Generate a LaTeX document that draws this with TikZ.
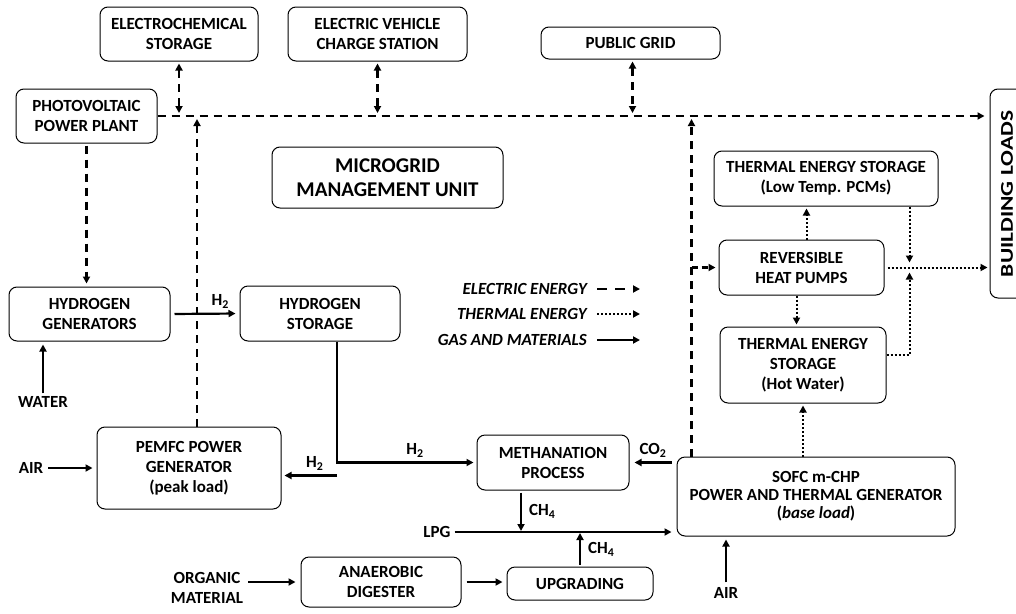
\documentclass[tikz,border=0pt]{standalone}
\usepackage{fontspec}
\setmainfont{Carlito}
\usetikzlibrary{arrows.meta,calc}
\tikzset{
  box/.style={draw, line width=1pt, rounded corners=8pt, align=center, inner sep=0pt,
    font=\fontsize{17}{20}\selectfont\bfseries},
  lbl/.style={font=\fontsize{17}{20}\selectfont\bfseries, inner sep=1pt, align=center},
  leg/.style={font=\fontsize{17}{20}\selectfont\bfseries\itshape, inner sep=0pt, anchor=east},
  tip/.style={-{Triangle[length=7pt,width=7pt]}},
  dtip/.style={{Triangle[length=7pt,width=7pt]}-{Triangle[length=7pt,width=7pt]}},
  elec/.style={line width=2.2pt, dash pattern=on 8pt off 6pt},
  therm/.style={line width=2pt, dash pattern=on 2pt off 2pt},
  gas/.style={line width=2.2pt},
}
\begin{document}
\begin{tikzpicture}[x=1pt,y=-1pt]
\useasboundingbox (0,0) rectangle (1016,613);
% boxes
\node[box, minimum width=158, minimum height=54] (ecs) at (179,34) {ELECTROCHEMICAL\\STORAGE};
\node[box, minimum width=179, minimum height=54] (ev) at (377.5,34) {ELECTRIC VEHICLE\\CHARGE STATION};
\node[box, minimum width=179, minimum height=32] (pg) at (630.5,43) {PUBLIC GRID};
\node[box, minimum width=141, minimum height=54] (pv) at (86.5,116) {PHOTOVOLTAIC\\POWER PLANT};
\node[box, minimum width=231, minimum height=61, font=\fontsize{21}{24}\selectfont\bfseries] (mmu) at (387.5,177.5) {MICROGRID\\MANAGEMENT UNIT};
\node[box, minimum width=161, minimum height=54] (hg) at (89.5,314) {HYDROGEN\\GENERATORS};
\node[box, minimum width=160, minimum height=55] (hs) at (320,313.5) {HYDROGEN\\STORAGE};
\node[box, minimum width=184, minimum height=82] (pem) at (189,468) {PEMFC POWER\\GENERATOR\\(peak load)};
\node[box, minimum width=152, minimum height=55] (meth) at (553,462.5) {METHANATION\\PROCESS};
\node[box, minimum width=278, minimum height=79, font=\fontsize{17}{18}\selectfont\bfseries] (sofc) at (816,496.5) {SOFC m-CHP\\POWER AND THERMAL GENERATOR\\(\textit{base load})};
\node[box, minimum width=160, minimum height=50] (ad) at (381,582) {ANAEROBIC\\DIGESTER};
\node[box, minimum width=146, minimum height=33] (up) at (580,583.5) {UPGRADING};
\node[box, minimum width=224, minimum height=55] (tesl) at (826,178.5) {THERMAL ENERGY STORAGE\\(Low Temp. PCMs)};
\node[box, minimum width=165, minimum height=55] (rhp) at (801.5,267.5) {REVERSIBLE\\HEAT PUMPS};
\node[box, minimum width=166, minimum height=76] (tesh) at (803,365) {THERMAL ENERGY\\STORAGE\\(Hot Water)};
\node[box, minimum width=60, minimum height=209] (bl) at (1020,193.5) {};
\node[lbl, rotate=90, font=\fontsize{18}{20}\selectfont\bfseries] (blt) at (1007,194) {\scalebox{1.3}[1]{BUILDING LOADS}};
% free labels
\node[lbl] (water) at (43,402) {WATER};
\node[lbl] (air1) at (31,468) {AIR};
\node[lbl] (lpg) at (437,532) {LPG};
\node[lbl] (org) at (207,588) {ORGANIC\\MATERIAL};
\node[lbl] (air2) at (726,593) {AIR};
% legend
\node[leg] (le) at (587,289) {ELECTRIC ENERGY};
\node[leg] (lt) at (587,314) {THERMAL ENERGY};
\node[leg] (lg) at (587,340) {GAS AND MATERIALS};
\coordinate (lee) at (640,289);
\coordinate (lte) at (640,314);
\coordinate (lge) at (640,340);
\draw[elec, tip, dash pattern=on 10pt off 8pt] ($(le.east)+(10,0)$) -- (lee);
\draw[therm, tip] ($(lt.east)+(10,0)$) -- (lte);
\draw[gas, tip] ($(lg.east)+(10,0)$) -- (lge);
% electric bus
\draw[elec, tip, shorten >=5pt] (pv.east) -- (bl.west |- pv.east);
\draw[elec, dtip, shorten <=2pt, shorten >=3pt] (ecs.south) -- (ecs.south |- pv.east);
\draw[elec, dtip, shorten <=2pt, shorten >=3pt] (ev.south) -- (ev.south |- pv.east);
\coordinate (pgd) at ($(pg.south)+(2,0)$);
\draw[elec, dtip, shorten <=2pt, shorten >=3pt] (pgd) -- (pgd |- pv.east);
\coordinate (pemup) at ($(pem.north)+(8,0)$);
\draw[elec, tip, shorten >=3pt] (pemup) -- (pemup |- pv.east);
\coordinate (sofcup) at ($(sofc.north west)+(15,0)$);
\draw[elec, tip, shorten >=3pt] (sofcup) -- (sofcup |- pv.east);
\draw[elec, tip, shorten >=3pt, dash pattern=on 6pt off 4pt] (sofcup |- rhp.west) -- (rhp.west);
\draw[elec, tip, shorten <=2pt, shorten >=3pt] (pv.south) -- (pv.south |- hg.north);
% gas
\draw[gas, tip, shorten <=4pt, shorten >=4pt] (hg.east) -- node[lbl, above=3pt, pos=0.72] {H\textsubscript{2}} (hs.west);
\draw[gas, tip, shorten <=2pt, shorten >=3pt] (water.north) -- (water.north |- hg.south);
\coordinate (hsx) at ($(hs.south)+(17,0)$);
\draw[gas, tip, shorten >=3pt] (hsx) |- node[lbl, pos=0.78, above=3pt] {H\textsubscript{2}} (meth.west);
\coordinate (br) at ($(hsx)+(0,134)$);
\draw[gas, tip, shorten >=3pt] (br) -- node[lbl, above=3pt, pos=0.4] {H\textsubscript{2}} (br -| pem.east);
\draw[gas, tip, shorten <=4pt, shorten >=4pt] (air1.east) -- (pem.west);
\draw[gas, tip, shorten <=5pt, shorten >=5pt] (sofc.west |- meth.east) -- node[lbl, above=3pt] {CO\textsubscript{2}} (meth.east);
\draw[gas, tip, shorten <=3pt, shorten >=5pt] (lpg.east) -- (lpg.east -| sofc.west);
\coordinate (mdown) at ($(meth.south)+(-32,0)$);
\draw[gas, tip, shorten <=2pt, shorten >=1pt] (mdown) -- node[lbl, right=6pt] {CH\textsubscript{4}} (mdown |- lpg.east);
\draw[gas, tip, shorten <=2pt, shorten >=1pt] (up.north) -- node[lbl, right=6pt] {CH\textsubscript{4}} (up.north |- lpg.east);
\draw[gas, tip, shorten <=5pt, shorten >=4pt] (ad.east) -- (ad.east -| up.west);
\draw[gas, tip, shorten <=4pt, shorten >=5pt] (org.east |- ad.west) -- (ad.west);
\draw[gas, tip, shorten <=4pt, shorten >=3pt] (air2.north) -- (air2.north |- sofc.south);
% thermal
\draw[therm, tip, shorten >=2pt] (tesh.south |- sofc.north) -- (tesh.south);
\coordinate (rup) at ($(rhp.north)+(5,0)$);
\draw[therm, tip, shorten >=2pt] (rup) -- (rup |- tesl.south);
\coordinate (rdn) at ($(rhp.south)+(-5,0)$);
\draw[therm, tip, shorten >=2pt] (rdn) -- (rdn |- tesh.north);
\draw[therm, tip, shorten <=3pt, shorten >=2pt] (rhp.east) -- (bl.west |- rhp.east);
\coordinate (tld) at ($(tesl.south east)+(-29,0)$);
\draw[therm, tip, shorten >=5pt] (tld) -- (tld |- rhp.east);
\coordinate (the) at ($(tesh.east)+(0,-10)$);
\draw[therm, tip, shorten >=5pt] (the) -| (tld |- rhp.east);
\end{tikzpicture}
\end{document}
